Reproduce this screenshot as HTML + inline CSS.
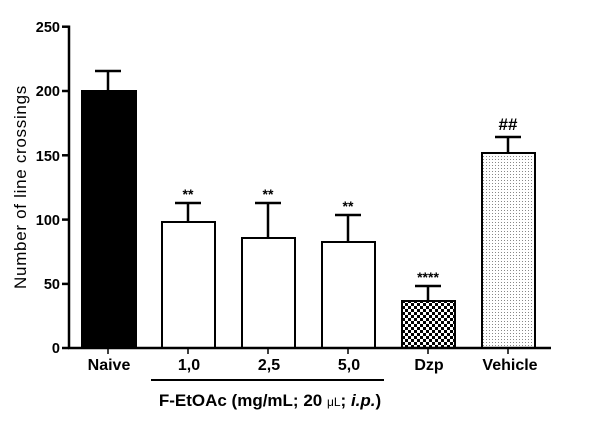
<!DOCTYPE html>
<html><head><style>body{margin:0;background:#fff}svg{display:block}</style></head><body>
<svg width="606" height="426" xmlns="http://www.w3.org/2000/svg" font-family="Liberation Sans, Arial, sans-serif">
<defs>
<pattern id="chk" width="6" height="6" patternUnits="userSpaceOnUse"><rect width="6" height="6" fill="#fff"/><rect width="3" height="3" fill="#000"/><rect x="3" y="3" width="3" height="3" fill="#000"/></pattern>
<pattern id="dot" width="3" height="3" patternUnits="userSpaceOnUse"><rect width="3" height="3" fill="#fff"/><rect width="1" height="1" fill="#888"/></pattern>
</defs>
<g stroke="#000" stroke-width="2.5" fill="none">
<line x1="69" y1="25.5" x2="69" y2="349"/>
<line x1="62" y1="26.7" x2="69" y2="26.7"/>
<line x1="62" y1="91" x2="69" y2="91"/>
<line x1="62" y1="155.3" x2="69" y2="155.3"/>
<line x1="62" y1="219.6" x2="69" y2="219.6"/>
<line x1="62" y1="283.9" x2="69" y2="283.9"/>
<line x1="62" y1="348" x2="69" y2="348"/>
</g>
<g stroke="#000" stroke-width="1.5">
<line x1="108" y1="348" x2="108" y2="354"/><line x1="188" y1="348" x2="188" y2="354"/><line x1="268" y1="348" x2="268" y2="354"/><line x1="348" y1="348" x2="348" y2="354"/><line x1="428" y1="348" x2="428" y2="354"/><line x1="508" y1="348" x2="508" y2="354"/>
</g>
<g font-size="14.5" font-weight="bold" text-anchor="end">
<text x="60" y="32">250</text><text x="60" y="96">200</text><text x="60" y="161">150</text><text x="60" y="225">100</text><text x="60" y="289">50</text><text x="60" y="353">0</text>
</g>
<text transform="translate(26,187) rotate(-90)" font-size="17" letter-spacing="0.7" text-anchor="middle">Number of  line crossings</text>
<g stroke="#000" stroke-width="2.5">
<line x1="108" y1="91" x2="108" y2="71"/><line x1="95" y1="71" x2="121" y2="71"/>
<line x1="188" y1="222" x2="188" y2="203"/><line x1="175" y1="203" x2="201" y2="203"/>
<line x1="268" y1="238" x2="268" y2="203"/><line x1="255" y1="203" x2="281" y2="203"/>
<line x1="348" y1="242" x2="348" y2="215"/><line x1="335" y1="215" x2="361" y2="215"/>
<line x1="428" y1="301" x2="428" y2="286"/><line x1="415" y1="286" x2="441" y2="286"/>
<line x1="508" y1="153" x2="508" y2="137"/><line x1="495" y1="137" x2="521" y2="137"/>
</g>
<g stroke="#000" stroke-width="2">
<rect x="82" y="91" width="54" height="257" fill="#000"/>
<rect x="162" y="222" width="53" height="126" fill="#fff"/>
<rect x="242" y="238" width="53" height="110" fill="#fff"/>
<rect x="322" y="242" width="53" height="106" fill="#fff"/>
<rect x="402" y="301" width="53" height="47" fill="url(#chk)"/>
<rect x="482" y="153" width="53" height="195" fill="url(#dot)"/>
</g>
<line x1="68" y1="348" x2="551" y2="348" stroke="#000" stroke-width="2.5"/>
<g font-size="14" font-weight="bold" text-anchor="middle">
<text x="188" y="199">**</text><text x="268" y="199">**</text><text x="348" y="211">**</text><text x="428" y="282">****</text><text x="508" y="130" font-size="17">##</text>
</g>
<g font-size="16" font-weight="bold" text-anchor="middle">
<text x="109" y="370">Naive</text><text x="189" y="370">1,0</text><text x="269" y="370">2,5</text><text x="349" y="370">5,0</text><text x="429" y="370">Dzp</text><text x="510" y="370">Vehicle</text>
</g>
<line x1="151" y1="380" x2="384" y2="380" stroke="#000" stroke-width="2"/>
<text x="270" y="406" font-size="17" font-weight="bold" text-anchor="middle">F-EtOAc (mg/mL; 20 <tspan font-size="12" font-weight="normal">μL</tspan>; <tspan font-style="italic">i.p.</tspan>)</text>
</svg>
</body></html>
